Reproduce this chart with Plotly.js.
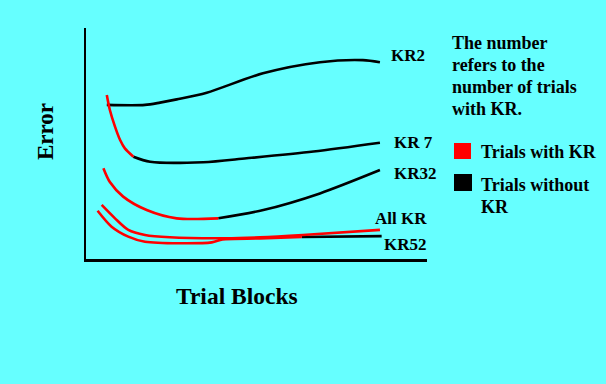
<!DOCTYPE html>
<html>
<head>
<meta charset="utf-8">
<script src="https://cdn.plot.ly/plotly-3.0.1.min.js"></script>
<style>html,body{margin:0;padding:0;background:#66FFFF;}#chart{width:606px;height:384px;}</style>
</head>
<body>
<div id="chart"></div>
<script>
// Trial blocks (x) and error (y), arbitrary units 0-10
const kr2X = [0.61, 1.73, 2.17, 2.66, 3.54, 5.19, 6.86, 8.12, 8.62];
const kr2Y = [6.67, 6.67, 6.77, 6.91, 7.20, 8.04, 8.52, 8.61, 8.52];

const kr7WithX = [0.61, 0.70, 0.85, 1.00, 1.14, 1.39];
const kr7WithY = [7.10, 6.45, 5.73, 5.15, 4.79, 4.43];
const kr7WithoutX = [1.39, 1.88, 3.44, 4.71, 6.67, 8.62];
const kr7WithoutY = [4.43, 4.21, 4.19, 4.36, 4.65, 5.03];

const kr32WithX = [0.51, 0.70, 1.09, 1.78, 2.66, 3.88];
const kr32WithY = [3.93, 3.33, 2.70, 2.12, 1.76, 1.76];
const kr32WithoutX = [3.88, 5.20, 6.86, 8.62];
const kr32WithoutY = [1.76, 2.12, 2.84, 3.85];

const allKrX = [0.46, 0.85, 1.24, 1.73, 2.46, 4.08, 5.10, 6.36, 8.62];
const allKrY = [2.34, 1.76, 1.26, 1.04, 0.94, 0.90, 0.94, 1.04, 1.26];

const kr52WithX = [0.34, 0.75, 1.24, 1.73, 3.69, 4.00, 5.10, 6.33];
const kr52WithY = [2.09, 1.40, 0.97, 0.75, 0.72, 0.85, 0.89, 0.95];
const kr52WithoutX = [6.33, 8.67];
const kr52WithoutY = [0.95, 0.99];

const curveLabels = ["KR2", "KR 7", "KR32", "All KR", "KR52"];
const labelX = [8.89, 8.96, 8.96, 8.41, 8.67];
const labelY = [8.83, 5.03, 3.71, 1.76, 0.61];

const noteLines = ["The number", "refers to the", "number of trials", "with KR."];
const legendLabels = ["Trials with KR", "Trials without", "KR"];

const RED = "#FF0000", BLACK = "#000000";
const FONT = "Liberation Serif, Times New Roman, serif";

function seg(x, y, color) {
  return {x: x, y: y, type: "scatter", mode: "lines",
    line: {color: color, width: 2.6, shape: "spline", smoothing: 0.8},
    hoverinfo: "skip", showlegend: false};
}

const traces = [
  seg(kr2X, kr2Y, BLACK),
  seg(kr7WithoutX, kr7WithoutY, BLACK),
  seg(kr7WithX, kr7WithY, RED),
  seg(kr32WithoutX, kr32WithoutY, BLACK),
  seg(kr32WithX, kr32WithY, RED),
  seg(kr52WithoutX, kr52WithoutY, BLACK),
  seg(kr52WithX, kr52WithY, RED),
  seg(allKrX, allKrY, RED)
];

// plot area in pixels: left 86, right 427, top 28, bottom 259
const L = 86, R = 427, T = 28, B = 259;
const px = v => (v - L) / (R - L);
const py = v => (B - v) / (B - T);

const annotations = [];
curveLabels.forEach((t, i) => annotations.push({
  text: t, x: labelX[i], y: labelY[i], xref: "x", yref: "y",
  xanchor: "left", yanchor: "middle", showarrow: false,
  font: {family: FONT, size: 17, color: BLACK, weight: "bold"}
}));
const noteY = [43, 65, 87, 109];
noteLines.forEach((t, i) => annotations.push({
  text: t, x: px(450), y: py(noteY[i]), xref: "paper", yref: "paper",
  xanchor: "left", yanchor: "middle", showarrow: false,
  font: {family: FONT, size: 18, color: BLACK, weight: "bold"}
}));
const legY = [152, 185, 207];
legendLabels.forEach((t, i) => annotations.push({
  text: t, x: px(479), y: py(legY[i]), xref: "paper", yref: "paper",
  xanchor: "left", yanchor: "middle", showarrow: false,
  font: {family: FONT, size: 18, color: BLACK, weight: "bold"}
}));
annotations.push({
  text: "Trial Blocks", x: px(236.5), y: py(296), xref: "paper", yref: "paper",
  xanchor: "center", yanchor: "middle", showarrow: false,
  font: {family: FONT, size: 23.5, color: BLACK, weight: "bold"}
});
annotations.push({
  text: "Error", x: px(45), y: py(132), xref: "paper", yref: "paper",
  xanchor: "center", yanchor: "middle", showarrow: false, textangle: -90,
  font: {family: FONT, size: 23, color: BLACK, weight: "bold"}
});

const shapes = [
  {type: "rect", xref: "paper", yref: "paper", x0: px(454), x1: px(471), y0: py(159), y1: py(143),
   fillcolor: RED, line: {width: 0}},
  {type: "rect", xref: "paper", yref: "paper", x0: px(454), x1: px(472), y0: py(191), y1: py(174),
   fillcolor: BLACK, line: {width: 0}}
];

const axisBase = {showline: true, linecolor: BLACK, linewidth: 2.5, showgrid: false,
  zeroline: false, showticklabels: false, ticks: "", fixedrange: true};

const layout = {
  width: 606, height: 384,
  margin: {l: L, r: 606 - R, t: T, b: 384 - B, pad: 0},
  paper_bgcolor: "#66FFFF", plot_bgcolor: "#66FFFF",
  xaxis: Object.assign({}, axisBase, {range: [0, 10]}),
  yaxis: Object.assign({}, axisBase, {range: [0, 10]}),
  annotations: annotations,
  shapes: shapes,
  showlegend: false
};

Plotly.newPlot("chart", traces, layout, {displayModeBar: false, staticPlot: true});
</script>
</body>
</html>
